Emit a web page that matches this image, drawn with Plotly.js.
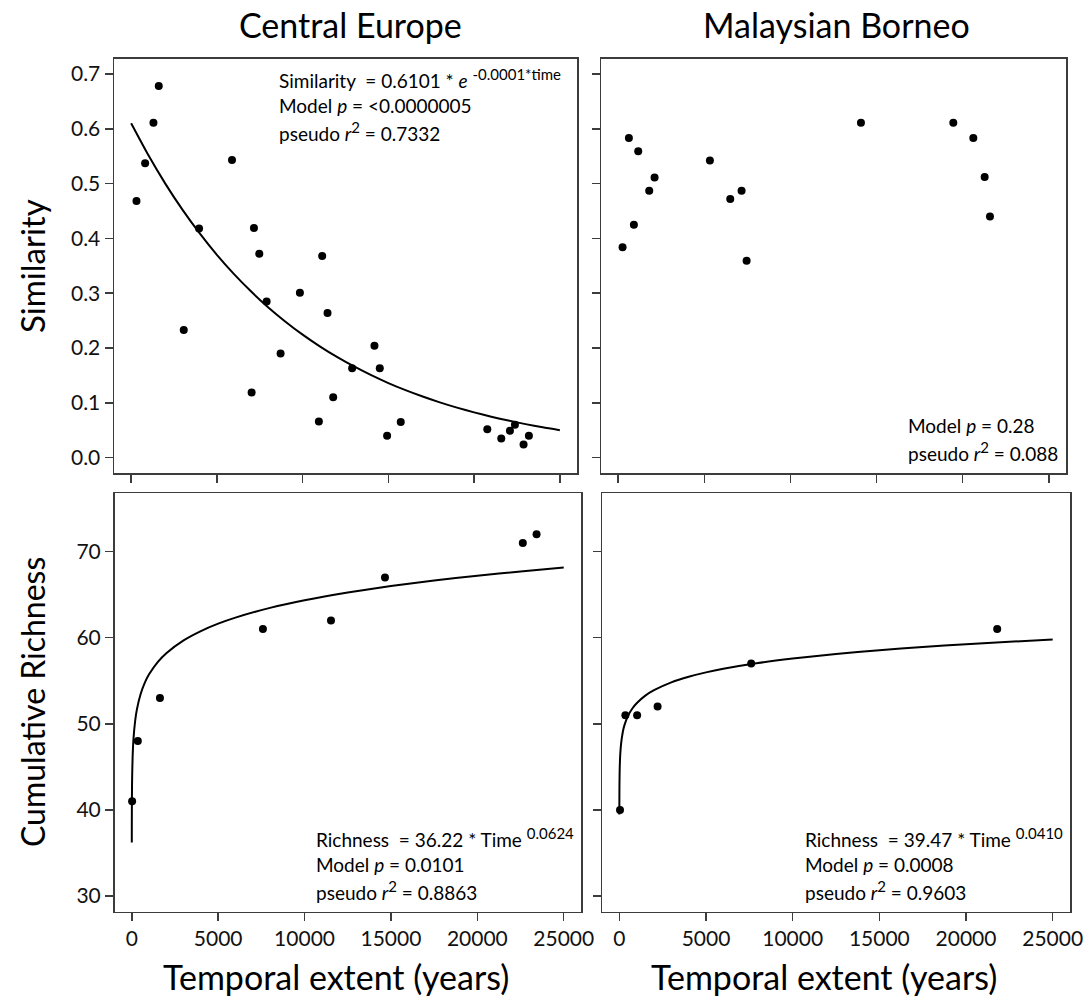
<!DOCTYPE html>
<html>
<head>
<meta charset="utf-8">
<script src="https://cdn.plot.ly/plotly-3.0.1.min.js"></script>
<style>html,body{margin:0;padding:0;background:#fff;}#chart{width:1083px;height:1000px;}</style>
</head>
<body>
<div id="chart"></div>
<script>
// ---- Data ----
// Central Europe: similarity vs temporal extent
var ceSimTime = [311, 815, 1300, 1611, 3067, 3960, 5881, 7026, 7162, 7473, 7900, 8715, 9841, 10947, 11141, 11452, 11782, 12888, 14189, 14499, 14926, 15722, 20769, 21584, 22089, 22380, 22884, 23195];
var ceSim     = [0.468, 0.537, 0.611, 0.678, 0.233, 0.418, 0.543, 0.119, 0.419, 0.372, 0.285, 0.190, 0.301, 0.066, 0.368, 0.264, 0.110, 0.163, 0.204, 0.163, 0.040, 0.065, 0.052, 0.035, 0.049, 0.060, 0.024, 0.040];
// fitted curve
var ceSimFitTime = [0, 1000, 2000, 3000, 4000, 5000, 6000, 7000, 8000, 9000, 10000, 11000, 12000, 13000, 14000, 15000, 16000, 17000, 18000, 19000, 20000, 21000, 22000, 23000, 24000, 25000];
var ceSimFit     = [0.610, 0.552, 0.4995, 0.452, 0.409, 0.370, 0.3348, 0.303, 0.2741, 0.2481, 0.2244, 0.2031, 0.1838, 0.1663, 0.1505, 0.1361, 0.1232, 0.1115, 0.1009, 0.0913, 0.0826, 0.0747, 0.0676, 0.0612, 0.0553, 0.0501];

// Malaysian Borneo: similarity vs temporal extent
var mbSimTime = [252, 620, 910, 1162, 1800, 2110, 5324, 6505, 7163, 7454, 14094, 19457, 20618, 21277, 21586];
var mbSim     = [0.384, 0.583, 0.425, 0.559, 0.487, 0.511, 0.542, 0.472, 0.487, 0.359, 0.611, 0.611, 0.583, 0.512, 0.440];

// Central Europe: cumulative richness
var ceRichTime = [20, 349, 1630, 7590, 11530, 14655, 22632, 23428];
var ceRich     = [41, 48, 53, 61, 62, 67, 71, 72];
var ceRichFitTime = [1, 2, 5, 10, 20, 50, 100, 200, 300, 500, 750, 1000, 1500, 2000, 3000, 4000, 5000, 6000, 8000, 10000, 12500, 15000, 17500, 20000, 22500, 25000];
var ceRichFit     = [36.22, 37.82, 40.05, 41.82, 43.67, 46.24, 48.28, 50.41, 51.70, 53.38, 54.75, 55.74, 57.17, 58.20, 59.69, 60.77, 61.63, 62.33, 63.46, 64.35, 65.25, 66.00, 66.64, 67.20, 67.69, 68.14];

// Malaysian Borneo: cumulative richness
var mbRichTime = [40, 348, 1026, 2207, 7608, 21800];
var mbRich     = [40, 51, 51, 52, 57, 61];
var mbRichFitTime = [1, 2, 5, 10, 20, 50, 100, 200, 300, 500, 750, 1000, 1500, 2000, 3000, 4000, 5000, 6000, 8000, 10000, 12500, 15000, 17500, 20000, 22500, 25000];
var mbRichFit     = [39.47, 40.61, 42.16, 43.38, 44.63, 46.34, 47.67, 49.05, 49.87, 50.92, 51.78, 52.39, 53.27, 53.90, 54.81, 55.46, 55.97, 56.39, 57.06, 57.58, 58.11, 58.55, 58.92, 59.24, 59.53, 59.78];

// Tick labels
var timeTicks = [0, 5000, 10000, 15000, 20000, 25000];
var timeTickText = ["0", "5000", "10000", "15000", "20000", "25000"];
var simTicks = [0, 0.1, 0.2, 0.3, 0.4, 0.5, 0.6, 0.7];
var simTickText = ["0.0", "0.1", "0.2", "0.3", "0.4", "0.5", "0.6", "0.7"];
var richTicks = [30, 40, 50, 60, 70];
var richTickText = ["30", "40", "50", "60", "70"];

// ---- Figure ----
var FONT = "Lato, 'Open Sans', sans-serif";
var LINE = "#3c3c3c";
function pts(x, y, xa, ya) {
  return {x: x, y: y, xaxis: xa, yaxis: ya, type: "scatter", mode: "markers",
          marker: {color: "#000", size: 8}, showlegend: false, hoverinfo: "skip", cliponaxis: false};
}
function fit(x, y, xa, ya) {
  return {x: x, y: y, xaxis: xa, yaxis: ya, type: "scatter", mode: "lines",
          line: {color: "#000", width: 2, shape: "spline", smoothing: 0.6}, showlegend: false, hoverinfo: "skip"};
}
var data = [
  fit(ceSimFitTime, ceSimFit, "x", "y"),
  pts(ceSimTime, ceSim, "x", "y"),
  pts(mbSimTime, mbSim, "x2", "y2"),
  fit(ceRichFitTime, ceRichFit, "x3", "y3"),
  pts(ceRichTime, ceRich, "x3", "y3"),
  fit(mbRichFitTime, mbRichFit, "x4", "y4"),
  pts(mbRichTime, mbRich, "x4", "y4")
];

function ax(extra) {
  var a = {showline: true, mirror: true, linecolor: LINE, linewidth: 1.5,
           ticks: "outside", ticklen: 8, tickwidth: 1.5, tickcolor: LINE,
           showgrid: false, zeroline: false, fixedrange: true,
           ticklabeloverflow: "allow",
           tickfont: {family: FONT, size: 21, color: "#111"}};
  for (var k in extra) a[k] = extra[k];
  return a;
}
var W = 1083, H = 1000;
function px(v) { return v / W; }
function py(v) { return 1 - v / H; }

var xTop = {range: [-1000, 26000], tickmode: "array", tickvals: timeTicks, ticktext: timeTickText, showticklabels: false};
var xBot = {range: [-1000, 26000], tickmode: "array", tickvals: timeTicks, ticktext: timeTickText, showticklabels: true};

function merge(a, b) { var o = {}; for (var k in a) o[k] = a[k]; for (var k2 in b) o[k2] = b[k2]; return o; }

var layout = {
  width: W, height: H,
  margin: {l: 0, r: 0, t: 0, b: 0},
  paper_bgcolor: "#fff", plot_bgcolor: "#fff",
  showlegend: false,
  xaxis:  ax(merge(xTop, {domain: [px(114), px(577)], anchor: "y"})),
  xaxis2: ax(merge(xTop, {domain: [px(601), px(1066)], anchor: "y2"})),
  xaxis3: ax(merge(xBot, {domain: [px(114.5), px(581)], anchor: "y3"})),
  xaxis4: ax(merge(xBot, {domain: [px(602), px(1070)], anchor: "y4"})),
  yaxis:  ax({domain: [py(473), py(58.6)], anchor: "x", range: [-0.028, 0.728], tickmode: "array", tickvals: simTicks, ticktext: simTickText}),
  yaxis2: ax({domain: [py(473), py(58.6)], anchor: "x2", range: [-0.028, 0.728], tickmode: "array", tickvals: simTicks, ticktext: simTickText, showticklabels: false}),
  yaxis3: ax({domain: [py(911.5), py(493)], anchor: "x3", range: [28.2, 76.8], tickmode: "array", tickvals: richTicks, ticktext: richTickText}),
  yaxis4: ax({domain: [py(911.5), py(493)], anchor: "x4", range: [28.2, 76.8], tickmode: "array", tickvals: richTicks, ticktext: richTickText, showticklabels: false}),
  annotations: []
};

function note(text, x, y, size, opts) {
  var a = {text: text, x: px(x), y: py(y), xref: "paper", yref: "paper", showarrow: false,
           xanchor: "left", yanchor: "middle", font: {family: FONT, size: size, color: "#000"}};
  if (opts) for (var k in opts) a[k] = opts[k];
  layout.annotations.push(a);
}
function sup(t) { return "<sup><span style='font-size:15px'>" + t + "</span></sup>"; }
// panel titles
note("Central Europe", 350, 24, 34, {xanchor: "center"});
note("Malaysian Borneo", 836, 24, 34, {xanchor: "center"});
// axis titles
note("Temporal extent (years)", 336, 976, 34, {xanchor: "center"});
note("Temporal extent (years)", 824, 976, 34, {xanchor: "center"});
note("Similarity", 32, 266, 33, {xanchor: "center", textangle: -90});
note("Cumulative Richness", 32, 702, 32, {xanchor: "center", textangle: -90});
// model text
var S = 19;
note("Similarity&nbsp; = 0.6101 * <i>e</i> " + sup("-0.0001*time"), 277, 79, S);
note("Model <i>p</i> = &lt;0.0000005", 277, 106, S);
note("pseudo <i>r</i>" + sup("2") + " = 0.7332", 277, 131, S);

note("Model <i>p</i> = 0.28", 906, 425, S);
note("pseudo <i>r</i>" + sup("2") + " = 0.088", 906, 451, S);

note("Richness&nbsp; = 36.22 * Time " + sup("0.0624"), 314, 837, S);
note("Model <i>p</i> = 0.0101", 314, 864, S);
note("pseudo <i>r</i>" + sup("2") + " = 0.8863", 314, 890, S);

note("Richness&nbsp; = 39.47 * Time " + sup("0.0410"), 803, 837, S);
note("Model <i>p</i> = 0.0008", 803, 864, S);
note("pseudo <i>r</i>" + sup("2") + " = 0.9603", 803, 890, S);

Plotly.newPlot("chart", data, layout, {staticPlot: true, displayModeBar: false});
</script>
</body>
</html>
